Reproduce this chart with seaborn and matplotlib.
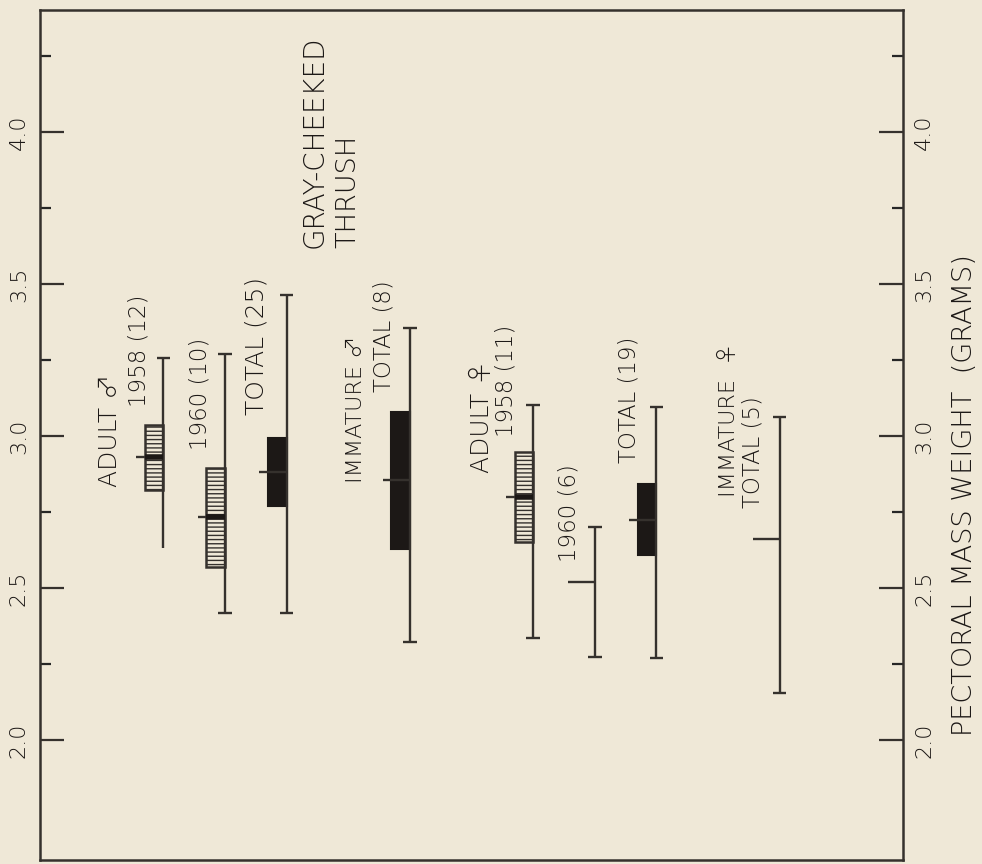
import numpy as np
import pandas as pd
import matplotlib
matplotlib.use("Agg")
import matplotlib.pyplot as plt
import seaborn as sns
from matplotlib.ticker import FixedLocator

# slots along the horizontal axis ('' = empty gap)
slots = ["a58", "a60", "atot", "", "imm_m", "", "f58", "f60", "ftot", "", "imm_f"]

groups = ["a58", "a60", "atot", "imm_m", "f58", "f60", "ftot", "imm_f"]
kind = ["year", "year", "total", "total", "year", "none", "total", "none"]
range_lo = [2.632, 2.418, 2.418, 2.322, 2.336, 2.273, 2.270, 2.155]
range_hi = [3.257, 3.270, 3.464, 3.355, 3.102, 2.701, 3.095, 3.063]
means = [2.931, 2.734, 2.882, 2.855, 2.799, 2.520, 2.724, 2.661]
box_lo = [2.822, 2.569, 2.770, 2.628, 2.651, np.nan, 2.609, np.nan]
box_hi = [3.036, 2.895, 2.993, 3.079, 2.947, np.nan, 2.842, np.nan]

ytick_vals = [2.0, 2.5, 3.0, 3.5, 4.0]
ytick_labels = ["2.0", "2.5", "3.0", "3.5", "4.0"]
yminor_vals = [2.25, 2.75, 3.25, 3.75, 4.25]

df = pd.DataFrame({"group": groups, "kind": kind, "lo": range_lo, "hi": range_hi,
                   "mean": means, "box_lo": box_lo, "box_hi": box_hi})
df["x"] = [slots.index(g) for g in df["group"]]

bg = "#efe8d7"
ink = "#35312d"
dark = "#1c1816"

sns.set_theme(style="ticks", rc={"axes.facecolor": bg, "figure.facecolor": bg,
                                 "hatch.linewidth": 1.0})
fonts = ["DejaVu Sans", "Noto Sans CJK JP"]
plt.rcParams["font.family"] = fonts

fig = plt.figure(figsize=(9.82, 8.64), dpi=100)
ax = fig.add_axes([40 / 982, 4 / 864, 863 / 982, 850 / 864])

# range lines and caps
ax.vlines(df["x"], df["lo"], df["hi"], color=ink, lw=1.7)
ax.hlines(df["hi"], df["x"] - 0.11, df["x"] + 0.11, color=ink, lw=1.7)
capped = df[df["group"] != "a58"]
ax.hlines(capped["lo"], capped["x"] - 0.11, capped["x"] + 0.11, color=ink, lw=1.7)

# boxes
yr = df[df["kind"] == "year"]
ax.bar(yr["x"], yr["box_hi"] - yr["box_lo"], bottom=yr["box_lo"], width=-0.3,
       align="edge", facecolor=bg, edgecolor=ink, lw=1.8, hatch="----")
tot = df[df["kind"] == "total"]
ax.bar(tot["x"], tot["box_hi"] - tot["box_lo"], bottom=tot["box_lo"], width=-0.3,
       align="edge", facecolor=dark, edgecolor=dark, lw=1.5)

# mean ticks
ax.hlines(df["mean"], df["x"] - 0.44, df["x"], color=ink, lw=1.7)
ax.hlines(yr["mean"], yr["x"] - 0.3, yr["x"], color=dark, lw=4)

txt = dict(rotation=90, ha="center", va="bottom", fontsize=18, color=dark,
           family=fonts, fontweight="light")
num = dict(txt, fontsize=16.5)
ax.text(-0.864, 2.832, "ADULT ♂", **txt)
ax.text(-0.394, 3.095, "1958 (12)", **num)
ax.text(0.596, 2.954, "1960 (10)", **num)
ax.text(1.52, 3.069, "TOTAL (25)", **txt)
ax.text(2.46, 3.618, "GRAY-CHEEKED", **dict(txt, fontsize=20))
ax.text(3.0, 3.618, "THRUSH", **dict(txt, fontsize=19.5))
ax.text(3.126, 2.845, "IMMATURE ♂", **dict(txt, fontsize=16))
ax.text(3.58, 3.145, "TOTAL (8)", **num)
ax.text(5.17, 2.878, "ADULT ♀", **txt)
ax.text(5.56, 2.997, "1958 (11)", **num)
ax.text(6.58, 2.586, "1960 (6)", **num)
ax.text(7.555, 2.911, "TOTAL (19)", **num)
ax.text(9.18, 2.799, "IMMATURE  ♀", **dict(txt, fontsize=16))
ax.text(9.57, 2.763, "TOTAL (5)", **num)

ax.set_xlim(-2, 12)
ax.set_ylim(1.605, 4.401)
ax.set_xticks([])
ax.set_yticks(ytick_vals)
ax.set_yticklabels(ytick_labels)
ax.yaxis.set_minor_locator(FixedLocator(yminor_vals))
ax.tick_params(axis="y", which="major", direction="in", length=17, width=1.6,
               right=True, labelright=True, labelrotation=90, labelsize=16,
               colors=ink, pad=8)
ax.tick_params(axis="y", which="minor", direction="in", length=8, width=1.6,
               right=True)
for t in ax.yaxis.get_major_ticks():
    for lab in (t.label1, t.label2):
        lab.set_va("center")
        lab.set_fontweight("light")
        lab.set_color(dark)
for side in ["left", "right", "top", "bottom"]:
    ax.spines[side].set_linewidth(1.8)
    ax.spines[side].set_color(ink)

fig.text(965 / 982, 1 - 495 / 864, "PECTORAL MASS WEIGHT  (GRAMS)", rotation=90,
         ha="center", va="center", fontsize=19.5, color=dark, family=fonts,
         fontweight="light")

fig.savefig("out.png", dpi=100, facecolor=bg)
